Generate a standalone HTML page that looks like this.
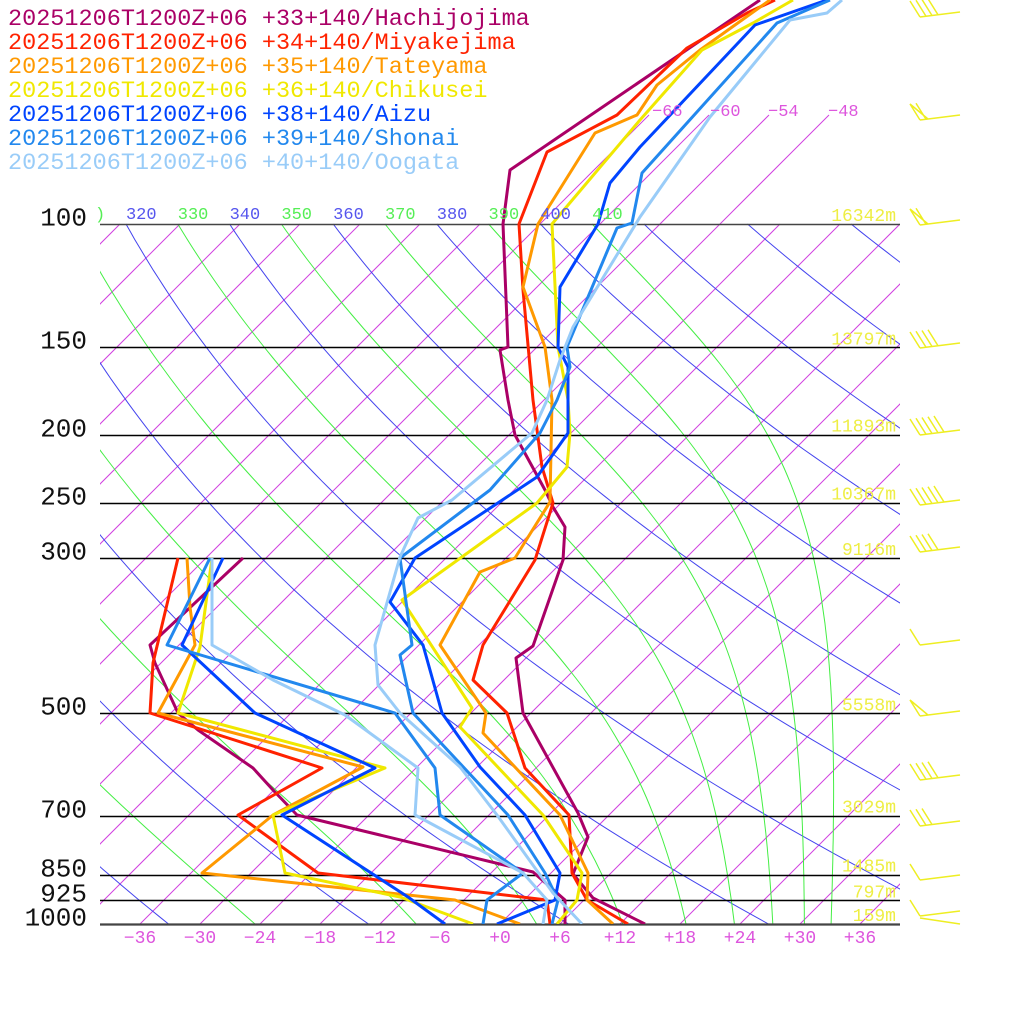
<!DOCTYPE html>
<html><head><meta charset="utf-8">
<style>
html,body{margin:0;padding:0;background:#fff;}
svg{display:block;}
text{font-family:"Liberation Mono",monospace;}
</style></head>
<body>
<svg id="s" width="1024" height="1024" viewBox="0 0 1024 1024" xmlns="http://www.w3.org/2000/svg">
<defs><clipPath id="c"><rect x="100" y="0" width="800" height="924"/></clipPath></defs>
<g id="bg" clip-path="url(#c)" fill="none"></g>
<g id="plev" stroke="#000" stroke-width="1.6"></g>
<g id="prof" fill="none" stroke-width="3" stroke-linejoin="round" clip-path="url(#c)"></g>
<g id="lbl"></g>
<g id="barbs" stroke="#eeee22" stroke-width="1.5" fill="none"></g>
</svg>
<script>
(function(){
var NS="http://www.w3.org/2000/svg";
function el(par,tag,attrs,txt){var e=document.createElementNS(NS,tag);for(var k in attrs)e.setAttribute(k,attrs[k]);if(txt!=null)e.textContent=txt;document.getElementById(par).appendChild(e);return e;}
var K=700/Math.log(10);
function Y(p){return 924-K*Math.log(1000/p);}
function X(T,p){return 500+10*T+K*Math.log(1000/p);}
function pts(a){return a.map(function(q){return q[0].toFixed(1)+","+q[1].toFixed(1);}).join(" ");}
// isotherms
for(var T=-120;T<=42;T+=6){
  var ytop=(T>=-66&&T<=-48)?115:224;
  var x0=500+10*T;
  var x1=x0+(924-ytop);
  el("bg","line",{x1:x0,y1:924,x2:x1,y2:ytop,stroke:"#d040e0","stroke-width":1});
}
// dry adiabats
for(var th=180;th<=480;th+=20){
  var a=[];for(var i=0;i<=90;i++){var p=100*Math.pow(10,i/90);var t=th*Math.pow(p/1000,0.2857)-273.15;a.push([X(t,p),Y(p)]);}
  el("bg","polyline",{points:pts(a),stroke:"#4444ee","stroke-width":1});
}
// moist adiabats
function es(Tc){return 6.112*Math.exp(17.67*Tc/(Tc+243.5));}
for(var th=190;th<=410;th+=20){
  var Tk=th*Math.pow(0.1,0.2857);var a=[];var N=400;var dl=Math.log(10)/N;var p=100;
  a.push([X(Tk-273.15,p),Y(p)]);
  for(var i=0;i<N;i++){
    var e=es(Tk-273.15);var rs=0.622*e/(p-e);
    var d=(287*Tk+2.5e6*rs)/(1004+2.5e6*2.5e6*rs*0.622/(287*Tk*Tk));
    Tk+=d*dl;p=p*Math.exp(dl);
    if(i%4==3)a.push([X(Tk-273.15,p),Y(p)]);
  }
  el("bg","polyline",{points:pts(a),stroke:"#44ee44","stroke-width":1});
}
// pressure lines and labels
var P=[100,150,200,250,300,500,700,850,925,1000];
P.forEach(function(p){var y=Math.round(Y(p))+0.5;var col=(p==100||p==1000)?"#444":"#000";
  el("plev","line",{x1:100,y1:y,x2:900,y2:y,stroke:col,"stroke-width":(p==1000?2.2:1.6)});
  el("lbl","text",{x:87,y:y+1,"font-size":26,"text-anchor":"end",fill:"#111"},String(p));
});
// theta labels
var tl=[[320,"#5555ee"],[330,"#55ee55"],[340,"#5555ee"],[350,"#55ee55"],[360,"#5555ee"],[370,"#55ee55"],[380,"#5555ee"],[390,"#55ee55"],[400,"#5555ee"],[410,"#55ee55"]];
tl.forEach(function(q){var x=X(q[0]*Math.pow(0.1,0.2857)-273.15,100);
  el("lbl","text",{x:x,y:219,"font-size":17,fill:q[1]},String(q[0]));});
el("lbl","text",{x:95,y:219,"font-size":17,fill:"#55ee55"},")");
// isotherm labels
[[-66,652],[-60,710],[-54,768],[-48,828]].forEach(function(q){el("lbl","text",{x:q[1],y:116,"font-size":17,fill:"#dd55dd"},String(q[0]).replace("-","\u2212"));});
// bottom ticks
for(var t=-36;t<=36;t+=6){var s=(t<0?"\u2212":"+")+Math.abs(t);
  el("lbl","text",{x:500+10*t,y:943,"font-size":18,"text-anchor":"middle",fill:"#dd55dd"},s);}
// heights
[[100,"16342m"],[150,"13797m"],[200,"11893m"],[250,"10367m"],[300,"9116m"],[500,"5558m"],[700,"3029m"],[850,"1485m"],[925,"797m"],[1000,"159m"]].forEach(function(q){
  el("lbl","text",{x:896,y:Y(q[0])-3,"font-size":18,"text-anchor":"end",fill:"#eeee44"},q[1]);});
// profiles
var S=[
["#aa0066","Hachijojima","+33+140",
 [[645,924],[593,898],[573,874],[588,837],[578,813],[523,713],[516,658],[533,646],[563,560],[565,527],[553,507],[545,490],[515,435],[508,400],[500,350],[508,347],[503,224],[510,170],[760,0]],
 [[565,924],[565,900],[533,872],[380,835],[297,815],[273,790],[253,768],[198,730],[178,713],[155,663],[150,645],[243,558]]],
["#ff2200","Miyakejima","+34+140",
 [[628,924],[587,900],[572,873],[569,815],[525,768],[507,713],[473,680],[483,645],[535,560],[553,503],[542,467],[533,400],[523,290],[519,224],[547,152],[617,115],[687,48],[747,13],[775,0]],
 [[550,924],[547,900],[318,873],[238,815],[322,768],[150,713],[153,663],[178,558]]],
["#ff9900","Tateyama","+35+140",
 [[613,924],[587,900],[588,873],[560,815],[483,733],[486,713],[440,645],[480,572],[515,558],[550,502],[552,400],[545,347],[523,287],[538,224],[595,133],[637,115],[657,85],[700,50],[770,0]],
 [[520,924],[455,900],[202,873],[273,815],[363,767],[158,713],[195,645],[190,607],[187,558]]],
["#f0e800","Chikusei","+36+140",
 [[557,924],[577,900],[582,873],[543,815],[460,727],[472,708],[402,600],[537,503],[567,467],[570,433],[568,400],[558,347],[552,224],[640,120],[702,50],[753,23],[793,0]],
 [[473,924],[400,897],[285,873],[273,815],[385,768],[178,713],[200,647],[212,558]]],
["#0044ff","Aizu","+38+140",
 [[497,924],[555,900],[560,873],[525,815],[480,767],[442,713],[423,645],[390,602],[415,558],[537,477],[568,433],[568,367],[558,347],[560,287],[598,224],[610,183],[640,147],[755,25],[827,0]],
 [[445,924],[408,897],[282,815],[375,768],[255,713],[182,645],[223,558]]],
["#2288ee","Shonai","+39+140",
 [[552,924],[558,900],[545,873],[508,815],[413,713],[400,655],[412,645],[400,558],[490,490],[540,433],[557,400],[570,367],[567,347],[617,228],[632,223],[642,173],[777,23],[830,0]],
 [[483,924],[487,900],[523,873],[440,815],[435,768],[395,713],[167,645],[210,558]]],
["#99ccf8","Oogata","+40+140",
 [[582,924],[553,893],[497,815],[460,767],[400,713],[378,685],[375,645],[400,557],[418,518],[452,500],[532,433],[547,400],[560,360],[573,327],[640,217],[710,117],[790,20],[827,13],[842,0]],
 [[543,924],[547,900],[523,873],[415,815],[418,768],[345,715],[273,680],[212,645],[212,558]]]
];
S.forEach(function(s,i){
  el("prof","polyline",{points:pts(s[3]),stroke:s[0]});
  el("prof","polyline",{points:pts(s[4]),stroke:s[0]});
  el("lbl","text",{x:8,y:25+24*i,"font-size":23.5,fill:s[0]},"20251206T1200Z+06 "+s[2]+"/"+s[1]);
});
// wind barbs
function barb(yb,n,flag){
  var d="M920,"+yb+" L960,"+(yb-5);
  var st=0;
  if(flag){d+=" M920,"+yb+" L910,"+(yb-16)+" L928,"+(yb-1);st=1;}
  for(var k=0;k<n;k++){var bx=920+(st+k)*6;var by=yb-(st+k)*0.75;d+=" M"+bx+","+by+" L"+(bx-10)+","+(by-16);}
  el("barbs","path",{d:d});
}
barb(17,4,false);barb(120,1,true);barb(225,1,true);barb(348,4,false);barb(435,5,false);
barb(505,5,false);barb(552,4,false);barb(645,1,false);barb(716,0,true);
barb(780,4,false);barb(826,3,false);barb(880,1,false);barb(916,1,false);
el("barbs","line",{x1:920,y1:918,x2:960,y2:924});
})();
</script>
</body></html>
